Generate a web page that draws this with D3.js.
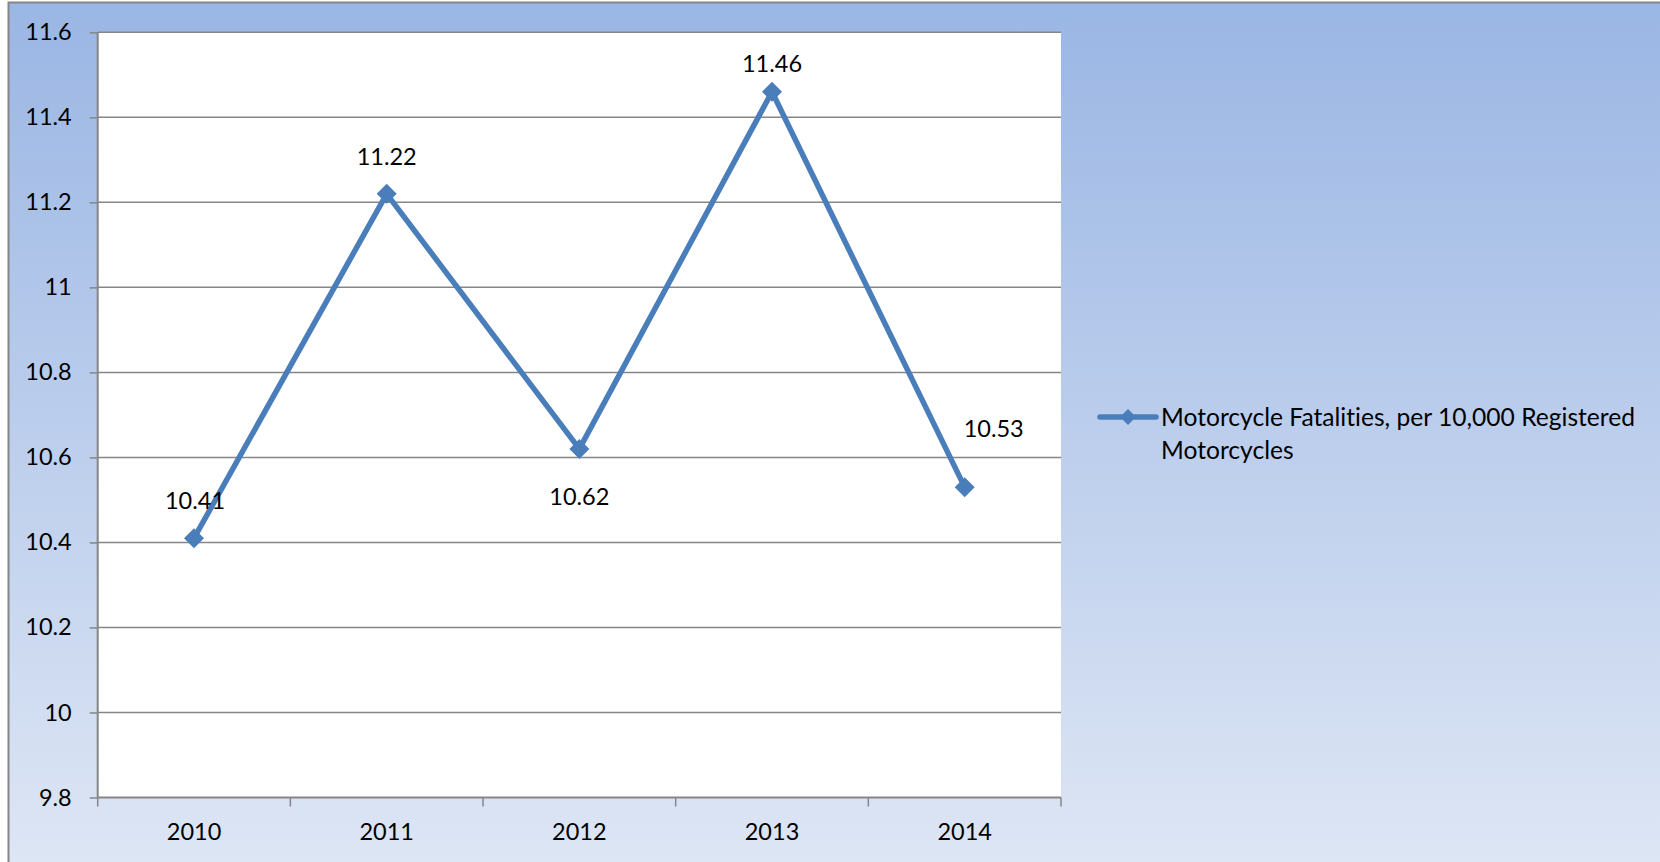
<!DOCTYPE html>
<html><head><meta charset="utf-8">
<script src="https://cdn.jsdelivr.net/npm/d3@7"></script>
<style>html,body{margin:0;padding:0;background:#fff;}svg{display:block;}text{font-variant-ligatures:none;}</style>
</head><body>
<svg id="c" width="1660" height="862"></svg>
<script>
const years = ["2010","2011","2012","2013","2014"];
const fatalities = [10.41, 11.22, 10.62, 11.46, 10.53];
const yTicks = [9.8, 10, 10.2, 10.4, 10.6, 10.8, 11, 11.2, 11.4, 11.6];
const seriesName = ["Motorcycle Fatalities, per 10,000 Registered", "Motorcycles"];

const svg = d3.select("#c");
const W = 1660, H = 862;
const font = "Lato, 'Liberation Sans', sans-serif";
const blue = "#4A7EBB";
const gray = "#868686";

const defs = svg.append("defs");
const g = defs.append("linearGradient").attr("id","bg").attr("x1",0).attr("y1",0).attr("x2",0).attr("y2",1);
g.append("stop").attr("offset","0%").attr("stop-color","#9AB6E4");
g.append("stop").attr("offset","100%").attr("stop-color","#DFE7F5");

svg.append("rect").attr("x",8.5).attr("y",2.5).attr("width",W+20).attr("height",H+20)
  .attr("fill","url(#bg)").attr("stroke",gray).attr("stroke-width",2);

const m = {l:97.7, r:1061, t:32.3, b:797.5};
const x = d3.scaleBand().domain(years).range([m.l, m.r]);
const y = d3.scaleLinear().domain([9.8, 11.6]).range([m.b, m.t]);

svg.append("rect").attr("x",m.l).attr("y",m.t).attr("width",m.r-m.l).attr("height",m.b-m.t).attr("fill","#fff");

// gridlines
svg.append("g").selectAll("line").data(yTicks.filter(v=>v>9.8)).join("line")
  .attr("x1",m.l).attr("x2",m.r).attr("y1",d=>y(d)).attr("y2",d=>y(d))
  .attr("stroke",gray).attr("stroke-width",1.5);

// y axis
const ya = svg.append("g").attr("transform",`translate(${m.l},0)`)
  .call(d3.axisLeft(y).tickValues(yTicks).tickSize(8).tickPadding(18).tickFormat(d=>String(d)));
ya.select(".domain").attr("stroke",gray).attr("stroke-width",2).attr("d",`M0,${m.t}V${m.b}`);
ya.selectAll(".tick line").attr("stroke",gray).attr("stroke-width",1.5);
ya.selectAll("text").attr("font-family",font).attr("font-size",23.5).attr("fill","#000");

// x axis
const xa = svg.append("g").attr("transform",`translate(0,${m.b})`)
  .call(d3.axisBottom(x).tickSize(0).tickPadding(26));
xa.select(".domain").attr("stroke",gray).attr("stroke-width",2).attr("d",`M${m.l},0H${m.r}`);
xa.selectAll("text").attr("font-family",font).attr("font-size",23.5).attr("fill","#000");
const bounds = years.map(d=>x(d)).concat([m.r]);
xa.append("g").selectAll("line").data(bounds).join("line")
  .attr("x1",d=>d).attr("x2",d=>d).attr("y1",0).attr("y2",9)
  .attr("stroke",gray).attr("stroke-width",1.5);

const cx = (d,i)=>x(years[i])+x.bandwidth()/2;
const line = d3.line().x((d,i)=>cx(d,i)).y(d=>y(d));
svg.append("path").datum(fatalities).attr("d",line).attr("fill","none")
  .attr("stroke",blue).attr("stroke-width",5.5).attr("stroke-linejoin","round");

const diamond = s => `M0,${-s}L${s},0L0,${s}L${-s},0Z`;
svg.append("g").selectAll("path").data(fatalities).join("path")
  .attr("transform",(d,i)=>`translate(${cx(d,i)},${y(d)})`)
  .attr("d",diamond(10)).attr("fill",blue);

// data labels (placement offsets as in the reference)
const off = [[1,-37],[0,-37],[0,48],[0,-28],[29,-58]];
svg.append("g").selectAll("text").data(fatalities).join("text")
  .attr("x",(d,i)=>cx(d,i)+off[i][0]).attr("y",(d,i)=>y(d)+off[i][1])
  .attr("dy","0.35em").attr("text-anchor","middle")
  .attr("font-family",font).attr("font-size",23.5).attr("fill","#000")
  .text(d=>d.toFixed(2));

// legend
const lg = svg.append("g");
lg.append("line").attr("x1",1100).attr("x2",1156).attr("y1",417).attr("y2",417)
  .attr("stroke",blue).attr("stroke-width",5.5).attr("stroke-linecap","round");
lg.append("path").attr("transform","translate(1128,417)").attr("d",diamond(8)).attr("fill",blue);
lg.selectAll("text").data(seriesName).join("text")
  .attr("x",1161).attr("y",(d,i)=>417+i*33).attr("dy","0.35em")
  .attr("font-family",font).attr("font-size",24.6).attr("fill","#000").text(d=>d);
</script>
</body></html>
